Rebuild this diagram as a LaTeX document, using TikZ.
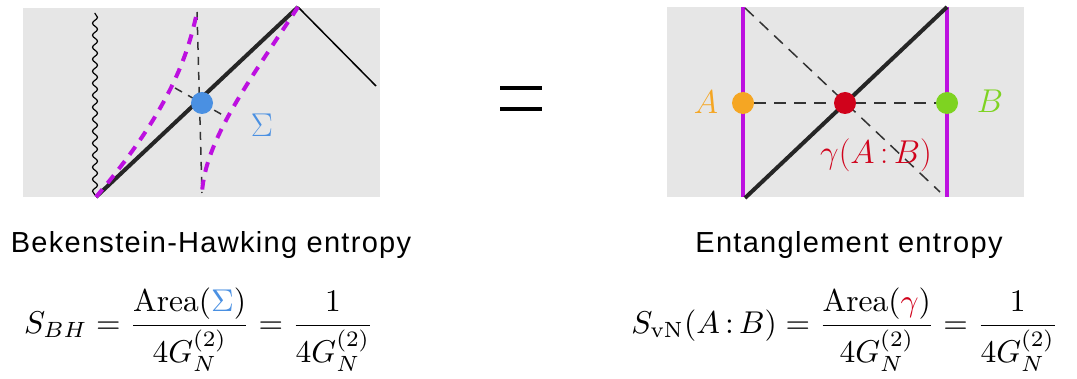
\RequirePackage{fix-cm}
\documentclass[tikz,border=0pt]{standalone}
\usepackage{amsmath}
\usepackage{graphicx}
\usepackage{fontspec}
\newfontfamily\capfont[LetterSpace=4.5]{Liberation Sans}
\usepackage{xcolor}
\usepackage{tikz}
\usetikzlibrary{decorations.pathmorphing}
\definecolor{panelGray}{HTML}{E6E6E6}
\definecolor{surfPurple}{HTML}{BD10E0}
\definecolor{sigmaBlue}{HTML}{4A90E2}
\definecolor{regionOrange}{HTML}{F5A623}
\definecolor{rtRed}{HTML}{D0021B}
\definecolor{regionGreen}{HTML}{7ED321}
\newcommand{\bigformula}[1]{\scalebox{3.15}{$\displaystyle #1$}}
\tikzset{
  panel/.style={fill=panelGray, draw=none},
  horizon/.style={line width=4pt, draw=black!85},
  null ray/.style={line width=1.5pt, draw=black},
  singularity/.style={line width=1.2pt, draw=black,
    decorate, decoration={snake, segment length=12pt, amplitude=2.5pt}},
  guide/.style={line width=1.5pt, draw=black!80, dash pattern=on 8pt off 7pt},
  long guide/.style={line width=1.5pt, draw=black!80, dash pattern=on 12pt off 8pt},
  extremal/.style={line width=4pt, draw=surfPurple, dash pattern=on 10pt off 8pt},
  boundary/.style={line width=3.5pt, draw=surfPurple},
  dot/.style={circle, draw=none, minimum size=22pt, inner sep=0pt},
  point label/.style={inner sep=0pt, font=\fontsize{33}{38}\selectfont},
  caption/.style={inner sep=0pt, font=\fontsize{29}{34}\selectfont\capfont},
  formula/.style={inner sep=0pt}
}
\begin{document}
\begin{tikzpicture}[x=1pt, y=-1pt]
  \useasboundingbox (0,0) rectangle (1077,379);
  % black hole panel
  \fill[panel] (23,8) rectangle (380,197);
  \coordinate (bh bottom) at (96,197);
  \coordinate (bh top) at (298,7);
  \coordinate (bh right) at (376,86);
  \coordinate (sing bottom) at (95,195);
  \coordinate (sing top) at (95,13);
  \coordinate (ext top) at (197,12);
  \coordinate (ext bottom) at (202,193);
  \coordinate (perp left) at (175,88);
  \coordinate (perp right) at (228,118);
  \draw[singularity] (sing bottom) -- (sing top);
  \draw[guide] (ext top) -- (ext bottom);
  \draw[guide] (perp left) -- (perp right);
  \draw[null ray] (bh top) -- (bh right);
  \draw[horizon] (bh bottom) -- (bh top);
  \draw[extremal] (bh bottom) .. controls (170,110) and (188,55) .. (ext top);
  \draw[extremal] (bh top) .. controls (250,80) and (205,140) .. (ext bottom);
  \node[dot, fill=sigmaBlue] (sigma) at (202,103) {};
  \node[point label, text=sigmaBlue] (sigma label) at (262,125) {$\Sigma$};
  % equals sign
  \coordinate (eq a) at (500,88); \coordinate (eq b) at (542,88);
  \coordinate (eq c) at (500,109); \coordinate (eq d) at (542,109);
  \draw[line width=4pt] (eq a) -- (eq b);
  \draw[line width=4pt] (eq c) -- (eq d);
  % entanglement panel
  \fill[panel] (667,7) rectangle (1024,197);
  \coordinate (left top) at (743,7); \coordinate (left bottom) at (743,197);
  \coordinate (right top) at (947,7); \coordinate (right bottom) at (947,197);
  \coordinate (diag top) at (745,8); \coordinate (diag bottom) at (940,192);
  \draw[boundary] (left top) -- (left bottom);
  \draw[boundary] (right top) -- (right bottom);
  \draw[long guide] (diag top) -- (diag bottom);
  \node[dot, fill=regionOrange] (A) at (743,103) {};
  \node[dot, fill=regionGreen] (B) at (947,103) {};
  \draw[long guide] (A) -- (B);
  \draw[horizon] (745,198) -- (right top);
  \node[dot, fill=rtRed] (gamma) at (845,103) {};
  \node[point label, text=regionOrange] (A label) at (706,102) {$A$};
  \node[point label, text=regionGreen] (B label) at (990,101) {$B$};
  \node[point label, text=rtRed] (gamma label) at (876,155) {$\gamma(A\,{:}\,B)$};
  % captions and formulas
  \node[caption, anchor=base] (bh caption) at (211,253) {Bekenstein-Hawking entropy};
  \node[caption, anchor=base] (ee caption) at (849,253) {Entanglement entropy};
  \node[formula] (bh formula) at (199,330)
    {\bigformula{S_{BH} = \frac{\mathrm{Area}(\textcolor{sigmaBlue}{\Sigma})}{4G_N^{(2)}} = \frac{1}{4G_N^{(2)}}}};
  \node[formula] (ee formula) at (845,330)
    {\bigformula{S_{\mathrm{vN}}(A\,{:}\,B) = \frac{\mathrm{Area}(\textcolor{rtRed}{\gamma})}{4G_N^{(2)}} = \frac{1}{4G_N^{(2)}}}};
\end{tikzpicture}
\end{document}
